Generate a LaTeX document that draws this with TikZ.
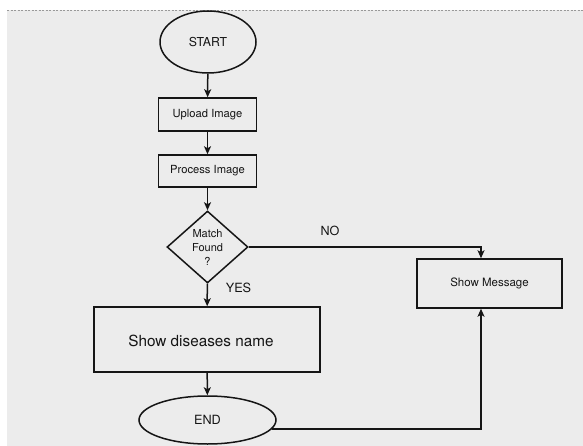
\documentclass[tikz,border=0pt]{standalone}
\usepackage{fontspec}
\setmainfont{TeX Gyre Heros}
\usetikzlibrary{shapes.geometric,arrows.meta,positioning}
\definecolor{bggray}{HTML}{ECECEC}
\definecolor{ink}{HTML}{151515}
\tikzset{
  every node/.style={text=ink},
  box/.style={draw=ink,line width=1.5pt,rectangle,inner sep=0pt},
  oval/.style={draw=ink,line width=1.5pt,ellipse,inner sep=0pt},
  decision/.style={draw=ink,line width=1.5pt,diamond,inner sep=0pt,align=center},
  arr/.style={draw=ink,line width=1.5pt,-{Stealth[length=8pt,width=7pt,inset=2pt]}},
  lbl/.style={inner sep=0pt}
}
\begin{document}
\begin{tikzpicture}[x=1pt,y=-1pt]
\useasboundingbox (0,0) rectangle (583,446);
\fill[white] (0,0) rectangle (583,446);
\fill[bggray] (7,10) rectangle (583,446);
\draw[gray!80,line width=0.7pt,dash pattern=on 2pt off 1.5pt] (7,10) -- (583,10);

\node[oval,minimum width=96pt,minimum height=62pt,font=\fontsize{12.3}{14}\selectfont] (start) at (208,42) {START};
\node[box,minimum width=98pt,minimum height=33pt,font=\fontsize{11.2}{13}\selectfont] (upload) at (207.5,114.5) {Upload Image};
\node[box,minimum width=98pt,minimum height=32pt,font=\fontsize{11.2}{13}\selectfont] (process) at (207.5,171) {Process Image};
\node[decision,minimum width=81pt,minimum height=72pt,font=\fontsize{11}{14}\selectfont] (match) at (207.5,247) {Match\\Found\\?};
\node[box,minimum width=226pt,minimum height=65pt,label={[font=\fontsize{15.3}{18}\selectfont,text=ink,xshift=-6pt,yshift=-1.5pt]center:Show diseases name}] (disease) at (207,339.5) {};
\node[oval,minimum width=137pt,minimum height=48pt,font=\fontsize{12.7}{15}\selectfont] (end) at (207.5,420) {END};
\node[box,minimum width=145pt,minimum height=49pt,font=\fontsize{11.5}{13}\selectfont] (msg) at (489.5,283.5) {Show Message};

\node[lbl,font=\fontsize{12.6}{14}\selectfont] (no) at (330,231) {NO};
\node[lbl,font=\fontsize{12.7}{14}\selectfont] (yes) at (238.5,288) {YES};

\draw[arr] (start) -- (upload);
\draw[arr] (upload) -- (process);
\draw[arr] (process) -- (match);
\draw[arr] (match) -- (disease);
\draw[arr] (disease) -- (end);
\draw[arr] (match.east) -| ([xshift=-8.5pt]msg.north);
\draw[arr] (end.-8) -| ([xshift=-8.5pt]msg.south);
\end{tikzpicture}
\end{document}
